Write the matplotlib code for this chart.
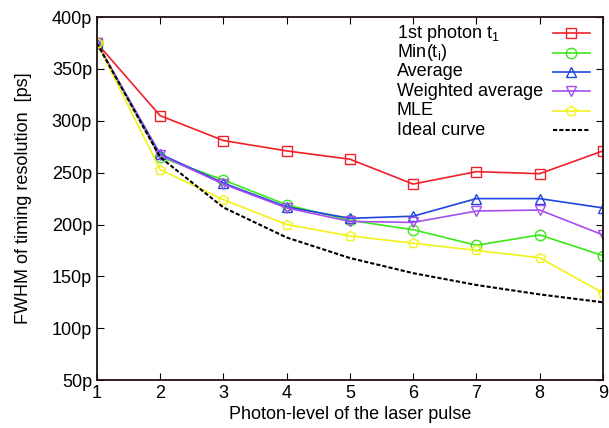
import matplotlib
matplotlib.use("Agg")
import matplotlib.pyplot as plt
from matplotlib.ticker import FuncFormatter

plt.rcParams['font.family'] = ['Liberation Sans', 'DejaVu Sans']

levels = [1, 2, 3, 4, 5, 6, 7, 8, 9]
first_photon = [375, 305, 281, 271, 263, 239, 251, 249, 271]
min_ti = [375, 265, 243, 219, 204, 195, 180, 190, 170]
average = [375, 268, 240, 217, 206, 208, 225, 225, 216]
weighted = [375, 267, 239, 216, 203, 202, 213, 214, 190]
mle = [375, 253, 224, 200, 189, 182, 175, 168, 134]
ideal = [375, 265, 216.5, 187.5, 167.7, 153.1, 141.7, 132.6, 125]

labels = [r'1st photon t$\mathregular{_1}$', r'Min(t$\mathregular{_i}$)', 'Average',
          'Weighted average', 'MLE', 'Ideal curve']
colors = ['#f0202a', '#3ce81a', '#1f44e0', '#a64ef0', '#f2f21a', 'black']
markers = ['s', 'o', '^', 'v', 'p', None]

fig = plt.figure(figsize=(6.09, 4.28), dpi=100)
ax = fig.add_axes([0.159, 0.112, 0.831, 0.848])

ms = 7.5
lw = 1.2
series = [first_photon, min_ti, average, weighted, mle]
for vals, c, m in zip(series, colors, markers):
    ax.plot(levels, vals, color=c, marker=m, ms=ms, mfc='none', lw=lw)
ax.plot(levels, ideal, color='black', ls=(0, (2, 1)), lw=1.5)

# gnuplot-style key: text left aligned, sample to the right
for i, (lab, c, m) in enumerate(zip(labels, colors, markers)):
    y = 0.956 - i * 0.0535
    ax.text(0.593, y, lab, transform=ax.transAxes, fontsize=13,
            ha='left', va='center')
    if m is None:
        ax.plot([0.901, 0.974], [y, y], transform=ax.transAxes, color=c,
                ls=(0, (2, 1)), lw=1.5, clip_on=False)
    else:
        ax.plot([0.901, 0.974], [y, y], transform=ax.transAxes, color=c,
                lw=lw, clip_on=False)
        ax.plot([0.9375], [y], transform=ax.transAxes, color=c, marker=m,
                ms=ms, mfc='none', clip_on=False)

ax.set_xlim(1, 9)
ax.set_ylim(50, 400)
ax.set_xticks(levels)
ax.set_yticks(range(50, 401, 50))
ax.yaxis.set_major_formatter(FuncFormatter(lambda v, p: '%dp' % v))
ax.tick_params(direction='in', top=True, right=True, labelsize=13, length=5)
for s in ax.spines.values():
    s.set_linewidth(1.3)
    s.set_color('#201010')

ax.set_xlabel('Photon-level of the laser pulse', fontsize=13, labelpad=3)
ax.set_ylabel('FWHM of timing resolution  [ps]', fontsize=13, labelpad=14)

fig.savefig('out.png', dpi=100)
